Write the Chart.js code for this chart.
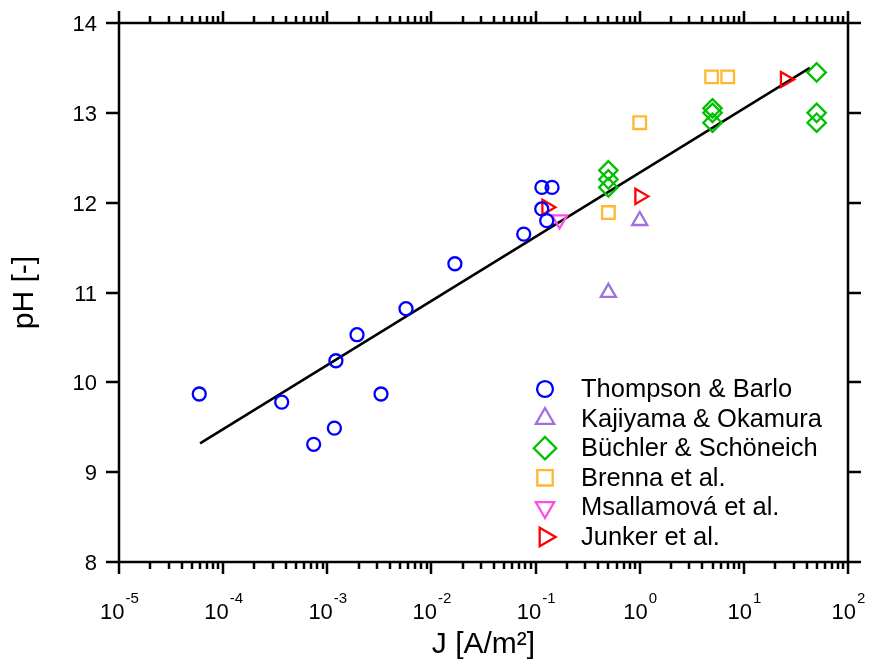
<!DOCTYPE html>
<html><head><meta charset="utf-8">
<script src="https://cdn.jsdelivr.net/npm/chart.js@4/dist/chart.umd.min.js"></script>
<style>html,body{margin:0;padding:0;background:#fff}canvas{display:block}</style>
</head><body>
<canvas id="c" width="869" height="662"></canvas>
<script>
// ---- data ----
const thompsonJ  = [5.9e-5, 3.65e-4, 7.4e-4, 1.17e-3, 1.21e-3, 1.93e-3, 3.28e-3, 5.7e-3, 0.0168, 0.077, 0.115, 0.144, 0.1146, 0.128];
const thompsonPH = [9.87, 9.78, 9.31, 9.49, 10.24, 10.53, 9.87, 10.82, 11.32, 11.65, 12.17, 12.17, 11.93, 11.80];
const kajiyamaJ  = [0.5, 1.0];
const kajiyamaPH = [11.0, 11.8];
const buchlerJ   = [0.5, 0.5, 0.5, 5, 5, 5, 50, 50, 50];
const buchlerPH  = [12.36, 12.26, 12.17, 13.05, 13.0, 12.89, 13.45, 13.0, 12.89];
const brennaJ    = [0.5, 1.0, 4.9, 7.0];
const brennaPH   = [11.89, 12.89, 13.40, 13.40];
const msallJ     = [0.17];
const msallPH    = [11.81];
const junkerJ    = [0.128, 1.0, 25];
const junkerPH   = [11.95, 12.07, 13.37];
const fitJ       = [6.0e-5, 43];
const fitPH      = [9.32, 13.50];

const seriesNames = ["Thompson & Barlo", "Kajiyama & Okamura", "B\u00fcchler & Sch\u00f6neich", "Brenna et al.", "Msallamov\u00e1 et al.", "Junker et al."];
const xTickExps = [-5, -4, -3, -2, -1, 0, 1, 2];
const yTicks = [8, 9, 10, 11, 12, 13, 14];
const xTitle = "J [A/m\u00b2]";
const yTitle = "pH [-]";

const FONT = "'Liberation Sans', Arial, sans-serif";
const pts = (xs, ys) => xs.map((v, i) => ({x: v, y: ys[i]}));

const styles = [
  {color: '#0000ff', style: 'circle',   rot: 0,   r: 6.5},
  {color: '#a070e0', style: 'triangle', rot: 0,   r: 8.7},
  {color: '#00c000', style: 'rectRot',  rot: 0,   r: 9.2},
  {color: '#ffb733', style: 'rect',     rot: 0,   r: 8.9},
  {color: '#ff4fe0', style: 'triangle', rot: 180, r: 8.7},
  {color: '#ff0000', style: 'triangle', rot: 90,  r: 8.7}
];
const seriesData = [pts(thompsonJ, thompsonPH), pts(kajiyamaJ, kajiyamaPH), pts(buchlerJ, buchlerPH),
                    pts(brennaJ, brennaPH), pts(msallJ, msallPH), pts(junkerJ, junkerPH)];

const datasets = seriesData.map((d, i) => ({
  label: seriesNames[i], data: d, showLine: false,
  pointStyle: styles[i].style, pointRotation: styles[i].rot, pointRadius: styles[i].r,
  pointHoverRadius: styles[i].r, pointBorderWidth: 2.3, pointHoverBorderWidth: 2.3,
  borderColor: styles[i].color, pointBorderColor: styles[i].color,
  backgroundColor: 'rgba(0,0,0,0)', pointBackgroundColor: 'rgba(0,0,0,0)', order: 1
}));
datasets.push({
  label: 'fit', data: pts(fitJ, fitPH), showLine: true, borderColor: '#000', borderWidth: 2.5,
  pointRadius: 0, pointHoverRadius: 0, fill: false, tension: 0, order: 2
});

const framePlugin = {
  id: 'frame',
  afterDraw(chart) {
    const {ctx, chartArea: a, scales: {x, y}} = chart;
    ctx.save();
    ctx.strokeStyle = '#000'; ctx.lineWidth = 2.5; ctx.lineCap = 'butt';
    ctx.strokeRect(a.left, a.top, a.right - a.left, a.bottom - a.top);
    // x ticks (bottom outward, top outward)
    ctx.beginPath();
    const maxV = Math.pow(10, xTickExps[xTickExps.length - 1]);
    for (let e = xTickExps[0]; e <= xTickExps[xTickExps.length - 1]; e++) {
      for (let k = 1; k <= 9; k++) {
        const v = k * Math.pow(10, e);
        if (v > maxV * 1.0001) break;
        const px = Math.round(x.getPixelForValue(v));
        const len = (k === 1) ? 12 : 7;
        ctx.moveTo(px, a.bottom); ctx.lineTo(px, a.bottom + len);
        ctx.moveTo(px, a.top); ctx.lineTo(px, a.top - len);
      }
    }
    // y ticks (left and right outward)
    yTicks.forEach(t => {
      const py = Math.round(y.getPixelForValue(t));
      ctx.moveTo(a.left, py); ctx.lineTo(a.left - 13, py);
      ctx.moveTo(a.right, py); ctx.lineTo(a.right + 13, py);
    });
    ctx.stroke();

    ctx.fillStyle = '#000';
    // y tick labels
    ctx.font = '22px ' + FONT; ctx.textAlign = 'right'; ctx.textBaseline = 'alphabetic';
    yTicks.forEach(t => {
      const py = y.getPixelForValue(t);
      ctx.fillText(String(t), a.left - 22, py + 8);
    });
    // x tick labels with superscript exponent
    xTickExps.forEach(e => {
      const px = x.getPixelForValue(Math.pow(10, e));
      ctx.font = '22px ' + FONT;
      const w1 = ctx.measureText('10').width;
      ctx.font = '15px ' + FONT;
      const es = String(e);
      const w2 = ctx.measureText(es).width;
      const start = px - (w1 + w2) / 2;
      ctx.textAlign = 'left';
      ctx.font = '22px ' + FONT;
      ctx.fillText('10', start, 619);
      ctx.font = '15px ' + FONT;
      ctx.fillText(es, start + w1 + 1, 603);
    });
    // axis titles
    ctx.font = '30px ' + FONT; ctx.textAlign = 'center';
    ctx.fillText(xTitle, (a.left + a.right) / 2, 653);
    ctx.save();
    ctx.translate(33, (a.top + a.bottom) / 2);
    ctx.rotate(-Math.PI / 2);
    ctx.fillText(yTitle, 0, 0);
    ctx.restore();

    // legend
    const lx = 545, ly0 = 389, dy = 29.6;
    seriesNames.forEach((name, i) => {
      const cy = ly0 + i * dy;
      const s = styles[i];
      ctx.strokeStyle = s.color; ctx.fillStyle = 'rgba(0,0,0,0)'; ctx.lineWidth = 2.3;
      Chart.helpers.drawPoint(ctx, {pointStyle: s.style, rotation: s.rot, radius: s.r * 1.22, borderWidth: 2.3}, lx, cy);
      ctx.fillStyle = '#000'; ctx.font = '25.5px ' + FONT; ctx.textAlign = 'left';
      ctx.fillText(name, 581, cy - 1 + 9);
    });
    ctx.restore();
  }
};

new Chart(document.getElementById('c'), {
  type: 'scatter',
  data: {datasets},
  options: {
    responsive: false, animation: false, devicePixelRatio: 1, events: [],
    layout: {padding: {left: 119, right: 21, top: 23, bottom: 100}},
    plugins: {legend: {display: false}, tooltip: {enabled: false}},
    scales: {
      x: {type: 'logarithmic', min: 1e-5, max: 100, display: false},
      y: {type: 'linear', min: 8, max: 14, display: false}
    }
  },
  plugins: [framePlugin]
});
</script>
</body></html>
